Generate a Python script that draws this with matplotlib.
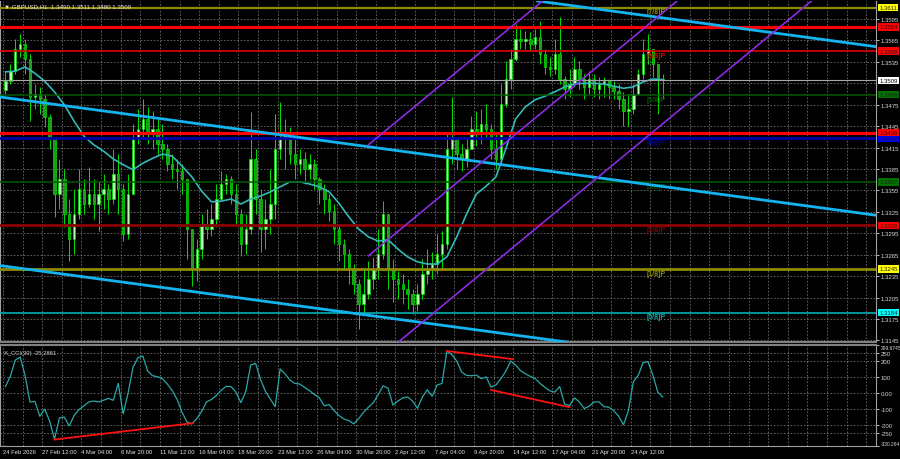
import matplotlib
matplotlib.use("Agg")
import matplotlib.pyplot as plt
import matplotlib.transforms as mtransforms
import numpy as np

plt.rcParams["font.family"] = ["Liberation Sans", "DejaVu Sans"]

# GBPUSD H1, one candle here = 8 hourly bars, first bar 24 Feb 2026
open_first = 1.3496
closes = [
    1.3508, 1.3522, 1.3553, 1.3560, 1.3539, 1.3486, 1.3490, 1.3483, 1.3458, 1.3427,
    1.3350, 1.3371, 1.3322, 1.3287, 1.3322, 1.3357, 1.3336, 1.3350, 1.3336, 1.3350,
    1.3357, 1.3343, 1.3378, 1.3357, 1.3294, 1.3350, 1.3427, 1.3441, 1.3455, 1.3434,
    1.3441, 1.3420, 1.3413, 1.3392, 1.3385, 1.3382, 1.3371, 1.3301, 1.3245, 1.3273,
    1.3308, 1.3301, 1.3315, 1.3343, 1.3364, 1.3371, 1.3350, 1.3322, 1.3280, 1.3301,
    1.3399, 1.3343, 1.3301, 1.3315, 1.3336, 1.3413, 1.3427, 1.3434, 1.3406, 1.3392,
    1.3399, 1.3385, 1.3392, 1.3371, 1.3357, 1.3343, 1.3326, 1.3301, 1.3280, 1.3266,
    1.3245, 1.3224, 1.3196, 1.3210, 1.3231, 1.3245, 1.3266, 1.3322, 1.3245, 1.3231,
    1.3224, 1.3217, 1.3210, 1.3196, 1.3210, 1.3238, 1.3245, 1.3252, 1.3266, 1.3280,
    1.3413, 1.3427, 1.3406, 1.3399, 1.3413, 1.3441, 1.3434, 1.3448, 1.3441, 1.3413,
    1.3399, 1.3476, 1.3511, 1.3539, 1.3567, 1.3564, 1.3567, 1.3560, 1.3570, 1.3546,
    1.3528, 1.3525, 1.3546, 1.3511, 1.3497, 1.3504, 1.3525, 1.3511, 1.3500, 1.3511,
    1.3497, 1.3504, 1.3508, 1.3500, 1.3494, 1.3483, 1.3466, 1.3469, 1.3490, 1.3518,
    1.3546, 1.3553, 1.3532, 1.3511, 1.3509,
]
highs = [
    1.3522, 1.3532, 1.3567, 1.3574, 1.3567, 1.3546, 1.3504, 1.3500, 1.3490, 1.3462,
    1.3427, 1.3399, 1.3385, 1.3343, 1.3357, 1.3385, 1.3371, 1.3388, 1.3371, 1.3368,
    1.3378, 1.3364, 1.3413, 1.3406, 1.3364, 1.3378, 1.3448, 1.3469, 1.3483, 1.3472,
    1.3466, 1.3455, 1.3448, 1.3420, 1.3406, 1.3399, 1.3392, 1.3371, 1.3294, 1.3287,
    1.3322, 1.3329, 1.3336, 1.3364, 1.3382, 1.3378, 1.3375, 1.3364, 1.3329, 1.3322,
    1.3465, 1.3413, 1.3357, 1.3343, 1.3385, 1.3462, 1.3479, 1.3455, 1.3444, 1.3427,
    1.3413, 1.3409, 1.3406, 1.3399, 1.3374, 1.3364, 1.3350, 1.3336, 1.3308, 1.3287,
    1.3273, 1.3252, 1.3231, 1.3245, 1.3256, 1.3262, 1.3301, 1.3340, 1.3322, 1.3259,
    1.3242, 1.3238, 1.3231, 1.3217, 1.3224, 1.3259, 1.3273, 1.3269, 1.3294, 1.3298,
    1.3434, 1.3486, 1.3427, 1.3420, 1.3427, 1.3459, 1.3466, 1.3469, 1.3476, 1.3448,
    1.3434, 1.3504, 1.3536, 1.3553, 1.3588, 1.3581, 1.3578, 1.3577, 1.3581, 1.3592,
    1.3553, 1.3542, 1.3567, 1.3598, 1.3515, 1.3525, 1.3542, 1.3536, 1.3518, 1.3522,
    1.3518, 1.3514, 1.3514, 1.3511, 1.3508, 1.3504, 1.3493, 1.3490, 1.3504, 1.3525,
    1.3567, 1.3574, 1.3553, 1.3532, 1.3518,
]
lows = [
    1.3490, 1.3504, 1.3518, 1.3542, 1.3518, 1.3452, 1.3469, 1.3462, 1.3444, 1.3413,
    1.3318, 1.3329, 1.3304, 1.3256, 1.3266, 1.3315, 1.3322, 1.3332, 1.3315, 1.3298,
    1.3329, 1.3322, 1.3336, 1.3322, 1.3284, 1.3287, 1.3357, 1.3420, 1.3427, 1.3420,
    1.3413, 1.3406, 1.3399, 1.3382, 1.3371, 1.3357, 1.3350, 1.3259, 1.3221, 1.3228,
    1.3259, 1.3287, 1.3291, 1.3304, 1.3343, 1.3350, 1.3336, 1.3308, 1.3263, 1.3266,
    1.3294, 1.3322, 1.3269, 1.3273, 1.3294, 1.3315, 1.3399, 1.3385, 1.3392, 1.3371,
    1.3378, 1.3364, 1.3371, 1.3357, 1.3336, 1.3322, 1.3312, 1.3280, 1.3256, 1.3245,
    1.3224, 1.3210, 1.3161, 1.3182, 1.3203, 1.3217, 1.3231, 1.3259, 1.3217, 1.3199,
    1.3203, 1.3196, 1.3189, 1.3182, 1.3186, 1.3203, 1.3224, 1.3231, 1.3238, 1.3245,
    1.3273, 1.3392, 1.3385, 1.3382, 1.3388, 1.3416, 1.3417, 1.3420, 1.3427, 1.3399,
    1.3385, 1.3392, 1.3472, 1.3497, 1.3536, 1.3553, 1.3553, 1.3550, 1.3553, 1.3532,
    1.3518, 1.3515, 1.3518, 1.3504, 1.3483, 1.3486, 1.3500, 1.3497, 1.3483, 1.3490,
    1.3486, 1.3483, 1.3486, 1.3483, 1.3483, 1.3469, 1.3445, 1.3445, 1.3462, 1.3490,
    1.3511, 1.3532, 1.3514, 1.3462, 1.3483,
]

# moving average, read every second candle
ma_vals = [
    1.3521, 1.3522, 1.3528, 1.3519, 1.3508, 1.3493, 1.3475, 1.3452, 1.3431, 1.3419,
    1.3410, 1.3399, 1.3391, 1.3384, 1.3393, 1.3400, 1.3406, 1.3403, 1.3389, 1.3374,
    1.3354, 1.3339, 1.3340, 1.3343, 1.3336, 1.3343, 1.3347, 1.3353, 1.3360, 1.3367,
    1.3367, 1.3364, 1.3360, 1.3353, 1.3337, 1.3318, 1.3301, 1.3290, 1.3284, 1.3286,
    1.3273, 1.3262, 1.3255, 1.3252, 1.3252, 1.3262, 1.3290, 1.3322, 1.3350, 1.3361,
    1.3374, 1.3413, 1.3455, 1.3472, 1.3482, 1.3487, 1.3493, 1.3500, 1.3504, 1.3505,
    1.3505, 1.3504, 1.3501, 1.3498, 1.3500, 1.3507, 1.3511, 1.3510,
]

cci_vals = [
    40, 105, 205, 225, 110, -56, -52, -145, -100, -175,
    -288, -155, -150, -205, -140, -103, -80, -55, -50, -55,
    -45, -33, -45, 60, -130, 0, 160, 220, 231, 137,
    108, 102, 90, 56, 15, -40, -120, -180, -192, -160,
    -115, -55, -40, -15, 18, 42, 40, 5, -60, 10,
    175, 185, 85, 10, -38, -85, 150, 120, 80, 60,
    56, 35, 15, -10, -30, -80, -72, -110, -140, -162,
    -172, -192, -160, -120, -88, -60, -10, 45, 30, -75,
    -50, -30, -25, -50, -95, -25, 20, -20, 50, 60,
    262, 240, 200, 131, 110, 108, 112, 90, 100, 37,
    50, 90, 135, 200, 175, 140, 120, 104, 90, 60,
    35, 14, 6, 40, -69, -78, -30, -55, -97, -82,
    -56, -55, -85, -88, -110, -144, -198, -110, 70, 110,
    190, 195, 110, 6, -25,
]
cci_min, cci_max = -330.264, 299.6745

# divergence lines on the CCI: (start candle, start value, end candle, end value)
div_lines = [(10, -290, 38.2, -188), (90, 262, 103.3, 212), (99, 19, 115, -88)]

# equidistant channel (blue) and ascending channel (purple)
blue_k = [0, 170]
blue_mid = [1.34848, 1.33272]
blue_half = 0.0236
purple_k = [74, 150]
purple_mid = [1.32635, 1.36945]
purple_half = 0.01554

# Murray math levels
murray_names = ["[0/8]P", "[1/8]P", "[2/8]P", "[3/8]P", "[4/8]P", "[5/8]P", "[6/8]P", "[7/8]P"]
murray_vals = [1.3184, 1.3245, 1.3306, 1.3367, 1.3428, 1.3489, 1.3550, 1.3611]
murray_colors = ["#00b0b0", "#8c8c00", "#8b0000", "#005a00", "#0000a8", "#005a00", "#e00000", "#8c8c00"]
murray_lw = [1.2, 2.0, 2.0, 1.1, 2.0, 1.1, 1.2, 1.6]
murray_box = ["#00ffff", "#ffff00", "#ff0000", "#007000", "#0000ff", "#007000", "#ff0000", "#ffff00"]
sr_vals = [1.3584, 1.3436]
bid = 1.3509

price_ticks = [1.3595, 1.3565, 1.3535, 1.3475, 1.3445, 1.3415, 1.3385, 1.3355, 1.3325,
               1.3295, 1.3265, 1.3235, 1.3205, 1.3175, 1.3145]
price_grid = price_ticks + [1.3505]
cci_ticks = [299.6745, 250, 200, 100, 0, -100, -200, -250, -330.264]
cci_tick_labels = ["299.6745", "250", "200", "100", "0.00", "-100", "-200", "-250", "-330.264"]
cci_grid = [250, 200, 100, 0, -100, -200, -250]

date_labels = ["24 Feb 2026", "27 Feb 12:00", "4 Mar 04:00", "6 Mar 20:00", "11 Mar 12:00",
               "16 Mar 04:00", "18 Mar 20:00", "23 Mar 12:00", "26 Mar 04:00", "30 Mar 20:00",
               "2 Apr 12:00", "7 Apr 04:00", "9 Apr 20:00", "14 Apr 12:00", "17 Apr 04:00",
               "21 Apr 20:00", "24 Apr 12:00"]

BG = "black"
GRID = "#707070"
FS = 4.3
W, H = 900, 460

fig = plt.figure(figsize=(W / 100, H / 100), dpi=100, facecolor=BG)
ax = fig.add_axes([0, (H - 343) / H, 876 / W, 341 / H], facecolor=BG)
axc = fig.add_axes([0, 13 / H, 876 / W, 101 / H], facecolor=BG)

xmin, xmax = -1.111, 177.48
for a in (ax, axc):
    a.set_xlim(xmin, xmax)
    a.set_xticks([])
    for s in a.spines.values():
        s.set_color("#a0a0a0")
        s.set_linewidth(0.8)
    a.spines["top"].set_visible(False)
    a.yaxis.tick_right()
    a.tick_params(axis="y", colors="#d8d8d8", length=2.5, width=0.6, labelsize=FS, pad=1)
    # vertical grid every 4 candles (32 hourly bars)
    for gx in np.arange(-0.5, xmax, 4):
        a.axvline(gx, color=GRID, lw=0.6, ls=(0, (2, 2)), zorder=0.5)

ax.spines["bottom"].set_color("#808080")
ax.spines["bottom"].set_linewidth(1.5)
axc.spines["top"].set_visible(True)
axc.spines["top"].set_color("#808080")
axc.spines["top"].set_linewidth(1.5)

# ---- price panel ----
ax.set_ylim(1.31428, 1.36202)
ax.set_yticks(price_ticks)
ax.set_yticklabels([f"{v:.4f}" for v in price_ticks])
for gy in price_grid:
    ax.axhline(gy, color=GRID, lw=0.6, ls=(0, (2, 2)), zorder=0.5)

ks = np.arange(len(closes))
opens = np.array([open_first] + closes[:-1])
c = np.array(closes)
hi = np.maximum(np.array(highs), np.maximum(opens, c))
lo = np.minimum(np.array(lows), np.minimum(opens, c))
ax.vlines(ks, lo, hi, color="#00e000", lw=0.7, zorder=2)
bull = c >= opens
body_lo = np.minimum(opens, c)
body_h = np.maximum(np.abs(c - opens), 0.00008)
ax.bar(ks[bull], body_h[bull], bottom=body_lo[bull], width=0.5,
       color="#b6ffb0", edgecolor="#00e000", linewidth=0.5, zorder=2.1)
ax.bar(ks[~bull], body_h[~bull], bottom=body_lo[~bull], width=0.5,
       color="#1f9a1f", edgecolor="#00e000", linewidth=0.5, zorder=2.1)

ax.plot(np.arange(0, len(closes), 2), ma_vals, color="#34b9b9", lw=1.2, zorder=3)

# horizontal levels
ytrans = mtransforms.blended_transform_factory(ax.transAxes, ax.transData)


def price_box(val, fc, tc="black"):
    ax.text(1.0035, val, f"{val:.4f}", transform=ytrans, ha="left", va="center",
            fontsize=FS, color=tc, clip_on=False, zorder=10,
            bbox=dict(boxstyle="square,pad=0.2", fc=fc, ec="none"))


for name, v, col, lw, bc in zip(murray_names, murray_vals, murray_colors, murray_lw, murray_box):
    ax.axhline(v, color=col, lw=lw, zorder=4)
    ax.text(130.8, v - 0.00012, name, color=col, fontsize=5, fontweight="bold",
            ha="left", va="top", zorder=3.5)
    price_box(v, bc, "#202020")
for v in sr_vals:
    ax.axhline(v, color="#ff0000", lw=2.2, zorder=4)
    price_box(v, "#ff0000", "#400000")
ax.axhline(bid, color="#a8a8a8", lw=0.8, zorder=4)
price_box(bid, "white")

# channels
slope_b = (blue_mid[1] - blue_mid[0]) / (blue_k[1] - blue_k[0])
for off in (-blue_half, 0, blue_half):
    ax.axline((blue_k[0], blue_mid[0] + off), slope=slope_b, color="#14b4f0", lw=2.0, zorder=5)

slope_p = (purple_mid[1] - purple_mid[0]) / (purple_k[1] - purple_k[0])
for off in (-purple_half, 0, purple_half):
    y0 = purple_mid[0] + off
    ax.plot([purple_k[0], xmax], [y0, y0 + slope_p * (xmax - purple_k[0])],
            color="#8a2be2", lw=1.2, zorder=5)

fig.text(4 / W, 1 - 7 / H, "\u25bc GBPUSD,H1  1.3490 1.3511 1.3480 1.3509",
         color="#e8e8e8", fontsize=4.4, va="center", ha="left")

# ---- CCI panel ----
axc.set_ylim(cci_min, cci_max)
axc.set_yticks(cci_ticks)
axc.set_yticklabels(cci_tick_labels)
for lab in (axc.get_yticklabels()[0], axc.get_yticklabels()[-1]):
    lab.set_fontsize(3.5)
axc.get_yticklabels()[0].set_va("top")
axc.get_yticklabels()[-1].set_va("bottom")
for gy in cci_grid:
    axc.axhline(gy, color=GRID, lw=0.6, ls=(0, (2, 2)), zorder=0.5)
axc.plot(ks, cci_vals, color="#2aa8a8", lw=0.9, zorder=3)
for k0, v0, k1, v1 in div_lines:
    axc.plot([k0, k1], [v0, v1], color="#ff1010", lw=1.3, zorder=4)
axc.text(4 / 876, 0.93, "X_CCI(30) -25.2861", transform=axc.transAxes,
         color="#d0d0d0", fontsize=4.2, ha="left", va="center")

xtrans = mtransforms.blended_transform_factory(axc.transData, axc.transAxes)
for j, lab in enumerate(date_labels):
    axc.text(8 * j - 0.5, -0.03, lab, transform=xtrans, ha="left", va="top",
             fontsize=4.2, color="#e0e0e0", clip_on=False)

fig.savefig("out.png", dpi=100, facecolor=BG)
